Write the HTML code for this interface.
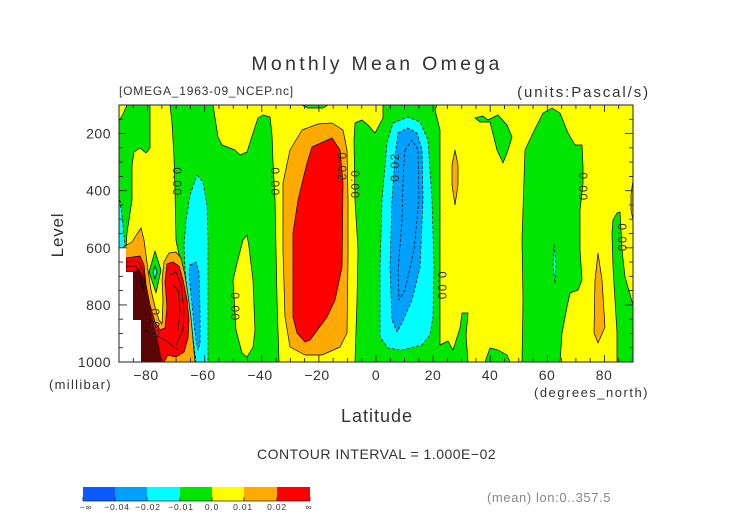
<!DOCTYPE html>
<html><head><meta charset="utf-8"><style>
html,body{margin:0;padding:0;background:#fff;}
body{width:752px;height:532px;overflow:hidden;}
svg{display:block;}
text{font-family:"Liberation Sans",sans-serif;fill:#333;}
</style></head><body>
<svg width="752" height="532" viewBox="0 0 752 532" xmlns="http://www.w3.org/2000/svg">
<rect x="0" y="0" width="752" height="532" fill="#fff"/>

<!-- base fill -->
<rect x="119" y="105" width="514" height="257" fill="#ffff00"/>

<g stroke="#000" stroke-width="0.7" stroke-linejoin="round">
<!-- greens -->
<polygon fill="#00e600" points="127,105 150,105 150,148 146,153 140,148 134,152 132,165 132,200 127,233 126,247 119,250 119,121 123,114"/>
<polygon fill="#00e600" points="170,105 213,105 218,137 222,145 235,150 240,155 247,152 253,133 258,118 263,115 270,117 272,135 273,162 275,200 276,250 277,300 279,362 194,362 190,330 186,300 183,270 178,250 176,240 175,190 174,157 172,123"/>
<polygon fill="#00e600" points="302,105 328,105 323,108 308,108"/>
<polygon fill="#00e600" points="383,105 437,105 435,110 440,130 440,345 448,341 453,350 460,328 462,313 468,313 466,335 468,362 355,362 357,300 358,250 355,200 354,140 355,123 362,120 368,125 375,133 383,118"/>
<polygon fill="#00e600" points="475,118 483,116 488,120 498,115 507,125 512,137 508,150 503,163 497,150 490,122 480,122"/>
<polygon fill="#00e600" points="485,362 490,348 498,350 507,355 510,362"/>
<polygon fill="#00e600" points="522,362 523,300 522,240 525,150 533,133 543,113 552,108 560,113 568,133 575,145 582,145 583,167 583,183 580,210 580,250 582,280 578,290 570,293 567,307 562,333 560,362"/>
<polygon fill="#00e600" points="617,213 620,212 622,250 625,277 633,305 633,362 617,362 617,333 615,300 613,267 612,233 613,220"/>
<!-- yellow lens -->
<polygon fill="#ffff00" points="247,235 249,247 253,280 255,330 253,347 247,357 242,353 236,330 233,280 237,263 243,240"/>
</g>

<g stroke="#000" stroke-width="0.7" stroke-dasharray="3,2" stroke-linejoin="round">
<!-- cyans -->
<polygon fill="#00ffff" points="119,195 122,215 125,247 119,249"/>
<polygon fill="#00ffff" points="197,175 203,182 207,205 208,240 208,300 208,362 196,362 192,330 188,300 185,270 184,245 186,220 190,195"/>
<polygon fill="#00ffff" points="393,123 408,117 420,122 428,140 432,200 434,267 433,317 430,335 422,345 402,350 388,348 380,337 380,267 382,200 387,143"/>
<polygon fill="#00ffff" points="554,245 556,265 555,283 553,265"/>
<!-- blues -->
<polygon fill="#00a0ff" points="190,265 196,262 199,272 200,313 200,343 198,350 196,340 193,313 190,285 189,272"/>
<polygon fill="#00a0ff" points="398,133 408,128 417,133 422,150 423,200 420,267 412,300 402,323 397,332 392,320 390,267 392,200 395,157"/>
<polygon fill="none" points="405,150 412,140 418,150 419,200 414,250 405,290 399,300 398,270 402,220 403,180"/>
<polygon fill="#00a0ff" stroke="none" points="633,352 631,358 631,362 633,362"/>
</g>

<g stroke="#000" stroke-width="0.7" stroke-linejoin="round">
<!-- oranges -->
<polygon fill="#ffaa00" points="119,250 125,246 132,242 137,234 141,228 144,240 146,255 148,270 151,290 155,307 159,320 162,324 163,300 162,280 164,262 169,253 176,252 181,258 185,275 188,295 191,318 193,340 195,362 119,362"/>
<polygon fill="#ffaa00" points="302,130 318,124 332,123 343,130 347,150 348,200 348,260 347,333 340,347 322,355 305,355 290,347 285,317 283,250 283,183 290,150"/>
<polygon fill="#ffaa00" points="455,150 458,165 458,185 455,205 452,185 452,165"/>
<polygon fill="#ffaa00" points="598,253 602,280 605,327 598,343 594,333 595,280"/>
<polygon fill="#ffaa00" points="633,180 631,195 631,210 633,220"/>
<!-- green diamond -->
<polygon fill="#00e600" points="155,251 161,270 156,293 149,272"/>
<polygon fill="#00ffff" points="155,266 157,272 155,279 153,272"/>
<!-- reds -->
<polygon fill="#ff0000" points="126,258 140,256 144,265 146,285 150,305 155,322 160,330 165,328 167,307 165,282 167,264 173,262 179,266 183,280 187,300 189,320 188,338 184,352 176,357 168,355 164,362 141,362 141,320 133,320 133,272 126,272"/>
<polygon fill="#ff0000" points="312,147 332,138 340,150 343,183 342,267 335,300 327,317 310,340 305,342 297,333 293,317 293,233 298,200 307,163"/>
</g>

<!-- dense contour lines region -->
<polygon fill="#5a0505" points="133,272 139,268 144,278 147,292 151,310 155,330 159,345 162,362 141,362 141,320 133,320"/>
<g stroke="#000" stroke-width="0.7" fill="none">
<polyline points="126,262 138,261 143,270 146,288"/>
<polyline points="126,266 136,266 141,276 144,292"/>
<polyline points="170,275 176,272 181,285 184,310 183,330 176,345"/>
<polyline points="173,285 178,290 180,310 178,330"/>
<polyline points="145,330 165,340 178,350"/>
</g>
<!-- missing data -->
<polygon fill="#ffffff" points="119,248 126,248 126,272 133,272 133,320 141,320 141,362 119,362"/>

<!-- contour labels -->
<g font-size="12" letter-spacing="1.5" text-anchor="middle" style="fill:#111">
<text transform="translate(177,182) rotate(90)" dy="4">0.00</text>
<text transform="translate(275,182) rotate(90)" dy="4">0.00</text>
<text transform="translate(342,167) rotate(90)" dy="4">0.02</text>
<text transform="translate(355,185) rotate(90)" dy="4">0.00</text>
<text transform="translate(395,167) rotate(-90)" dy="4">0.02</text>
<text transform="translate(235,307) rotate(90)" dy="4">0.00</text>
<text transform="translate(442,286) rotate(90)" dy="4">0.00</text>
<text transform="translate(583,187) rotate(90)" dy="4">0.00</text>
<text transform="translate(622,238) rotate(90)" dy="4">0.00</text>
<text transform="translate(155,323) rotate(90)" dy="4">0.00</text>
</g>

<!-- frame -->
<rect x="119" y="105" width="514" height="257" fill="none" stroke="#222" stroke-width="1"/>
<!-- ticks -->
<path stroke="#222" stroke-width="0.9" fill="none" d="
M119 105H123 M119 119.27H123 M119 133.55H127 M119 147.83H123 M119 162.11H123 M119 176.39H123 M119 190.66H127 M119 204.94H123 M119 219.22H123 M119 233.5H123 M119 247.78H127 M119 262.05H123 M119 276.33H123 M119 290.61H123 M119 304.89H127 M119 319.17H123 M119 333.44H123 M119 347.72H123
M633 119.27H629 M633 133.55H625 M633 147.83H629 M633 162.11H629 M633 176.39H629 M633 190.66H625 M633 204.94H629 M633 219.22H629 M633 233.5H629 M633 247.78H625 M633 262.05H629 M633 276.33H629 M633 290.61H629 M633 304.89H625 M633 319.17H629 M633 333.44H629 M633 347.72H629
M133.28 362V358 M147.56 362V355 M161.83 362V358 M176.11 362V358 M190.39 362V358 M204.67 362V355 M218.94 362V358 M233.22 362V358 M247.5 362V358 M261.78 362V355 M276.05 362V358 M290.33 362V358 M304.61 362V358 M318.89 362V355 M333.17 362V358 M347.44 362V358 M361.72 362V358 M376 362V355 M390.28 362V358 M404.56 362V358 M418.83 362V358 M433.11 362V355 M447.39 362V358 M461.67 362V358 M475.94 362V358 M490.22 362V355 M504.5 362V358 M518.78 362V358 M533.06 362V358 M547.33 362V355 M561.61 362V358 M575.89 362V358 M590.17 362V358 M604.44 362V355 M618.72 362V358
M133.28 105V109 M147.56 105V112 M161.83 105V109 M176.11 105V109 M190.39 105V109 M204.67 105V112 M218.94 105V109 M233.22 105V109 M247.5 105V109 M261.78 105V112 M276.05 105V109 M290.33 105V109 M304.61 105V109 M318.89 105V112 M333.17 105V109 M347.44 105V109 M361.72 105V109 M376 105V112 M390.28 105V109 M404.56 105V109 M418.83 105V109 M433.11 105V112 M447.39 105V109 M461.67 105V109 M475.94 105V109 M490.22 105V112 M504.5 105V109 M518.78 105V109 M533.06 105V109 M547.33 105V112 M561.61 105V109 M575.89 105V109 M590.17 105V109 M604.44 105V112 M618.72 105V109"/>

<!-- titles -->
<text x="377" y="70" text-anchor="middle" font-size="19.5" letter-spacing="3.3">Monthly Mean Omega</text>
<text x="119" y="95" font-size="12" letter-spacing="0.8">[OMEGA_1963-09_NCEP.nc]</text>
<text x="650" y="97" text-anchor="end" font-size="15" letter-spacing="1.9">(units:Pascal/s)</text>

<!-- y axis labels -->
<g font-size="14" text-anchor="end" letter-spacing="0.5">
<text x="111" y="138.5">200</text>
<text x="111" y="195.7">400</text>
<text x="111" y="252.8">600</text>
<text x="111" y="309.9">800</text>
<text x="111" y="367">1000</text>
</g>
<text transform="translate(63,235) rotate(-90)" text-anchor="middle" font-size="17" letter-spacing="0.8">Level</text>
<text x="49" y="389" font-size="13" letter-spacing="1.3">(millibar)</text>

<!-- x axis labels -->
<g font-size="14" text-anchor="middle" letter-spacing="0.5">
<text x="146" y="380">−80</text>
<text x="203" y="380">−60</text>
<text x="260" y="380">−40</text>
<text x="317" y="380">−20</text>
<text x="376" y="380">0</text>
<text x="433" y="380">20</text>
<text x="490" y="380">40</text>
<text x="547" y="380">60</text>
<text x="604" y="380">80</text>
</g>
<text x="649" y="397" text-anchor="end" font-size="13" letter-spacing="1.5">(degrees_north)</text>
<text x="377" y="422" text-anchor="middle" font-size="18" letter-spacing="1">Latitude</text>
<text x="257" y="459" font-size="14" letter-spacing="0.5">CONTOUR INTERVAL = 1.000E−02</text>

<!-- colorbar -->
<rect x="83" y="487" width="32" height="14" fill="#0a5aff"/>
<rect x="115" y="487" width="32" height="14" fill="#00a0ff"/>
<rect x="147" y="487" width="33" height="14" fill="#00ffff"/>
<rect x="180" y="487" width="32" height="14" fill="#00e600"/>
<rect x="212" y="487" width="32" height="14" fill="#ffff00"/>
<rect x="244" y="487" width="33" height="14" fill="#ffaa00"/>
<rect x="277" y="487" width="33" height="14" fill="#ff0000"/>
<path stroke="#222" stroke-width="0.8" fill="none" d="M83 501H310 M83 497V501 M115 497V501 M147 497V501 M180 497V501 M212 497V501 M244 497V501 M277 497V501 M310 497V501"/>
<g font-size="8.5" text-anchor="middle" letter-spacing="0.8" style="fill:#222">
<text x="86" y="510">−∞</text>
<text x="117" y="510">−0.04</text>
<text x="148" y="510">−0.02</text>
<text x="181" y="510">−0.01</text>
<text x="212" y="510">0.0</text>
<text x="243" y="510">0.01</text>
<text x="277" y="510">0.02</text>
<text x="309" y="510">∞</text>
</g>
<text x="487" y="502" font-size="13" letter-spacing="0.6" style="fill:#888">(mean) lon:0..357.5</text>
</svg>
</body></html>
